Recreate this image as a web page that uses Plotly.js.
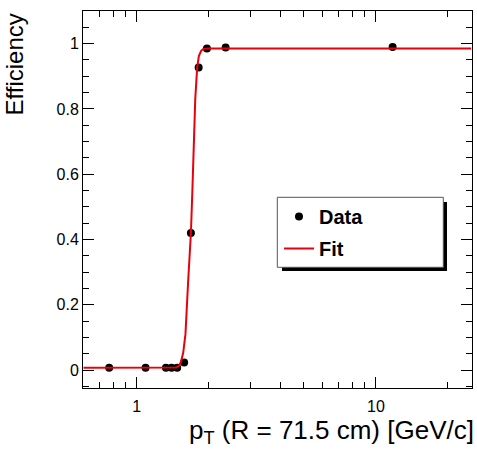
<!DOCTYPE html>
<html>
<head>
<meta charset="utf-8">
<script src="https://cdn.plot.ly/plotly-3.0.1.min.js"></script>
<style>html,body{margin:0;padding:0;background:#fff;}#chart{width:477px;height:450px;}</style>
</head>
<body>
<div id="chart"></div>
<script>
// Measured efficiency points
var dataPt = [0.768, 1.09, 1.326, 1.40, 1.477, 1.58, 1.686, 1.816, 1.967, 2.355, 11.74];
var dataEff = [0.007, 0.007, 0.007, 0.007, 0.007, 0.023, 0.42, 0.927, 0.985, 0.988, 0.99];

// Fit curve
var fitPt = [0.6, 1.40, 1.46, 1.50, 1.53, 1.565, 1.60, 1.64, 1.686, 1.71, 1.735, 1.758, 1.79, 1.82, 1.86, 1.90, 2.0, 25];
var fitEff = [0.007, 0.007, 0.008, 0.012, 0.024, 0.052, 0.11, 0.265, 0.42, 0.55, 0.70, 0.83, 0.925, 0.962, 0.978, 0.984, 0.985, 0.985];

var xTickVals = [1, 10];
var xTickText = ["1", "10"];
var xMinorVals = [0.7, 0.8, 0.9, 2, 3, 4, 5, 6, 7, 8, 9, 20];

var FONT = "Liberation Sans, Arial, Helvetica, sans-serif";
var L = 83, R = 472, T = 11, B = 388;
function px2x(p) { return (p - L) / (R - L); }
function px2y(p) { return (B - p) / (B - T); }

var traces = [
  {
    x: dataPt, y: dataEff, type: "scatter", mode: "markers", name: "Data",
    legendgroup: "a",
    marker: {color: "black", size: 8}
  },
  {
    x: fitPt, y: fitEff, type: "scatter", mode: "lines", name: "Fit",
    legendgroup: "b",
    line: {color: "#e8000b", width: 2}
  }
];

var layout = {
  width: 477, height: 450,
  margin: {l: L, r: 477 - R, t: T, b: 450 - B},
  paper_bgcolor: "white", plot_bgcolor: "white",
  font: {family: FONT, size: 16, color: "black"},
  showlegend: true,
  legend: {
    x: px2x(279), y: px2y(197), xanchor: "left", yanchor: "top",
    bgcolor: "rgba(0,0,0,0)", borderwidth: 0,
    font: {family: FONT, size: 20, color: "black", weight: "bold"},
    tracegroupgap: 3, traceorder: "grouped"
  },
  xaxis: {
    type: "log",
    range: [Math.log10(0.597), Math.log10(25.2)],
    showgrid: false, zeroline: false,
    showline: true, linecolor: "black", linewidth: 1, mirror: "allticks",
    ticks: "inside", ticklen: 11, tickcolor: "black", tickwidth: 1,
    tickmode: "array", tickvals: xTickVals, ticktext: xTickText,
    ticklabelstandoff: 4,
    tickfont: {family: FONT, size: 16, color: "black"},
    minor: {tickmode: "array", tickvals: xMinorVals, ticks: "inside", ticklen: 6, tickcolor: "black", showgrid: false}
  },
  yaxis: {
    range: [-0.055, 1.1],
    showgrid: false, zeroline: false,
    showline: true, linecolor: "black", linewidth: 1, mirror: "allticks",
    ticks: "inside", ticklen: 11, tickcolor: "black", tickwidth: 1,
    tickmode: "linear", tick0: 0, dtick: 0.2,
    tickfont: {family: FONT, size: 16, color: "black"},
    minor: {tickmode: "linear", tick0: 0, dtick: 0.05, ticks: "inside", ticklen: 6, tickcolor: "black", showgrid: false}
  },
  shapes: [
    {type: "rect", xref: "paper", yref: "paper", layer: "above",
     x0: px2x(282), x1: px2x(447), y0: px2y(271), y1: px2y(202),
     fillcolor: "black", line: {width: 0}},
    {type: "rect", xref: "paper", yref: "paper", layer: "above",
     x0: px2x(277.3), x1: px2x(443.3), y0: px2y(267.3), y1: px2y(197.3),
     fillcolor: "white", line: {color: "#555", width: 1}}
  ],
  annotations: [
    {text: "p<sub>T</sub> (R = 71.5 cm) [GeV/c]", xref: "paper", yref: "paper",
     x: px2x(476), y: px2y(432), xanchor: "right", yanchor: "middle",
     showarrow: false, font: {family: FONT, size: 26, color: "black"}},
    {text: "Efficiency", xref: "paper", yref: "paper", textangle: -90,
     x: px2x(13.5), y: px2y(12), xanchor: "center", yanchor: "top",
     showarrow: false, font: {family: FONT, size: 24, color: "black"}}
  ]
};

Plotly.newPlot("chart", traces, layout, {displayModeBar: false, staticPlot: true});
</script>
</body>
</html>
